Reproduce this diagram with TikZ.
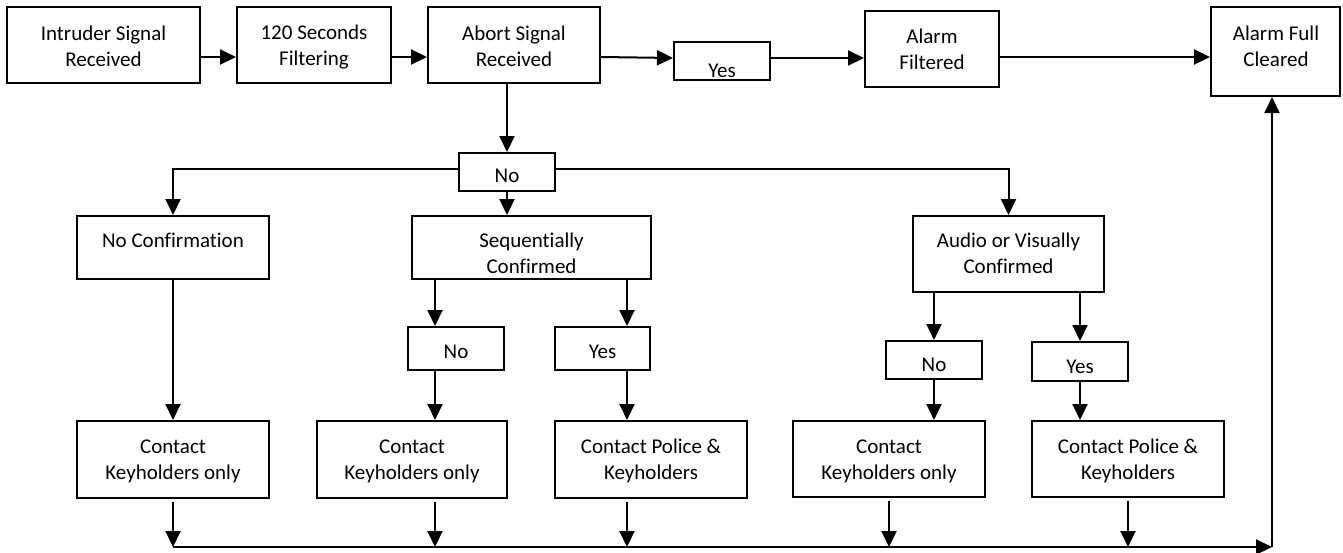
\documentclass[tikz,border=0pt]{standalone}
\usepackage{fontspec}
\setmainfont{Carlito}[Ligatures=NoCommon]
\usetikzlibrary{arrows.meta,fit,calc}
\begin{document}
\begin{tikzpicture}[x=0.5pt,y=-0.5pt,
  box/.style={draw, line width=1pt, inner sep=0pt},
  txt/.style={align=center, inner sep=0pt, font=\fontsize{10.5pt}{13pt}\selectfont},
  arr/.style={line width=1pt, -{Triangle[length=8pt,width=7.5pt]}}]
\useasboundingbox (0,0) rectangle (1343,552);
% boxes
\node[box, fit={(7,7) (200,83)}] (intr) {};
\node[box, fit={(237,7) (391,83)}] (filt) {};
\node[box, fit={(428,7) (600,83)}] (abort) {};
\node[box, fit={(674,42) (770,80)}] (yes1) {};
\node[box, fit={(865,11) (999,87)}] (afilt) {};
\node[box, fit={(1211,7) (1340,96)}] (afc) {};
\node[box, fit={(459,153) (555,191)}] (no1) {};
\node[box, fit={(77,216) (269,279)}] (noconf) {};
\node[box, fit={(412,216) (651,279)}] (seq) {};
\node[box, fit={(913,216) (1104,292)}] (audio) {};
\node[box, fit={(408,327) (504,370)}] (no2) {};
\node[box, fit={(555,327) (650,370)}] (yes2) {};
\node[box, fit={(886,341) (982,379)}] (no3) {};
\node[box, fit={(1032,342) (1128,381)}] (yes3) {};
\node[box, fit={(77,421) (269,498)}] (ck1) {};
\node[box, fit={(317,421) (507,498)}] (ck2) {};
\node[box, fit={(555,421) (747,498)}] (cp3) {};
\node[box, fit={(793,421) (985,497)}] (ck4) {};
\node[box, fit={(1032,421) (1224,497)}] (cp5) {};
% texts
\node[txt] (intr-t) at (103.5,46) {Intruder Signal\\Received};
\node[txt] (filt-t) at (314,47) {120 Seconds\\Filtering};
\node[txt] (abort-t) at (514,46) {Abort Signal\\Received};
\node[txt] (yes1-t) at (722,71) {Yes};
\node[txt] (afilt-t) at (932,49.5) {Alarm\\Filtered};
\node[txt] (afc-t) at (1276,46) {Alarm Full\\Cleared};
\node[txt] (no1-t) at (507,176) {No};
\node[txt] (noconf-t) at (173,240) {No Confirmation};
\node[txt] (seq-t) at (531.5,253) {Sequentially\\Confirmed};
\node[txt] (audio-t) at (1008.5,253) {Audio or Visually\\Confirmed};
\node[txt] (no2-t) at (456,351.5) {No};
\node[txt] (yes2-t) at (602.5,351.5) {Yes};
\node[txt] (no3-t) at (934,364.5) {No};
\node[txt] (yes3-t) at (1080,366.5) {Yes};
\node[txt] (ck1-t) at (173,461) {Contact\\Keyholders only};
\node[txt] (ck2-t) at (412,461) {Contact\\Keyholders only};
\node[txt] (cp3-t) at (651,461) {Contact Police \&\\Keyholders};
\node[txt] (ck4-t) at (889,461) {Contact\\Keyholders only};
\node[txt] (cp5-t) at (1128,461) {Contact Police \&\\Keyholders};
% lanes and bus
\coordinate (laneA) at ([xshift=-10.5pt]no2.north);
\coordinate (laneB) at ([xshift=12.25pt]yes2.north);
\coordinate (bus) at (1272,547);
% top row connectors
\draw[arr] ([yshift=-6pt]intr.east) -- ([yshift=-6pt]filt.west);
\draw[arr] ([yshift=-6pt]filt.east) -- ([yshift=-6pt]abort.west);
\draw[arr] ([yshift=-6pt]abort.east) -- ([yshift=1.5pt]yes1.west);
\draw[arr] ([yshift=1.5pt]yes1.east) -- ([yshift=-4.5pt]afilt.west);
\draw[arr] ([yshift=-4pt]afilt.east) -- ([yshift=-2.75pt]afc.west);
% branching
\draw[arr] (no1.north |- abort.south) -- (no1.north);
\draw[arr] ([yshift=1.5pt]no1.west) -| (noconf.north);
\draw[arr] ([yshift=1.5pt]no1.east) -| (audio.north);
\draw[arr] (no1.south) -- (no1.south |- seq.north);
\draw[arr] (noconf.south) -- (ck1.north);
\draw[arr] (laneA |- seq.south) -- (laneA);
\draw[arr] (laneB |- seq.south) -- (laneB);
\draw[arr] (laneA |- no2.south) -- (laneA |- ck2.north);
\draw[arr] (laneB |- yes2.south) -- (laneB |- cp3.north);
\draw[arr] (no3.north |- audio.south) -- (no3.north);
\draw[arr] (yes3.north |- audio.south) -- (yes3.north);
\draw[arr] (no3.south) -- (no3.south |- ck4.north);
\draw[arr] (yes3.south) -- (yes3.south |- cp5.north);
% bottom
\draw[arr, shorten <=1.5pt] (ck1.south) -- (ck1.south |- bus);
\draw[arr, shorten <=1.5pt] (laneA |- ck2.south) -- (laneA |- bus);
\draw[arr, shorten <=1.5pt] (laneB |- cp3.south) -- (laneB |- bus);
\draw[arr, shorten <=1.5pt] (ck4.south) -- (ck4.south |- bus);
\draw[arr, shorten <=1.5pt] (cp5.south) -- (cp5.south |- bus);
\draw[arr] (ck1.south |- bus) -- (bus);
\draw[arr] (bus) -- (bus |- afc.south);
\end{tikzpicture}
\end{document}
